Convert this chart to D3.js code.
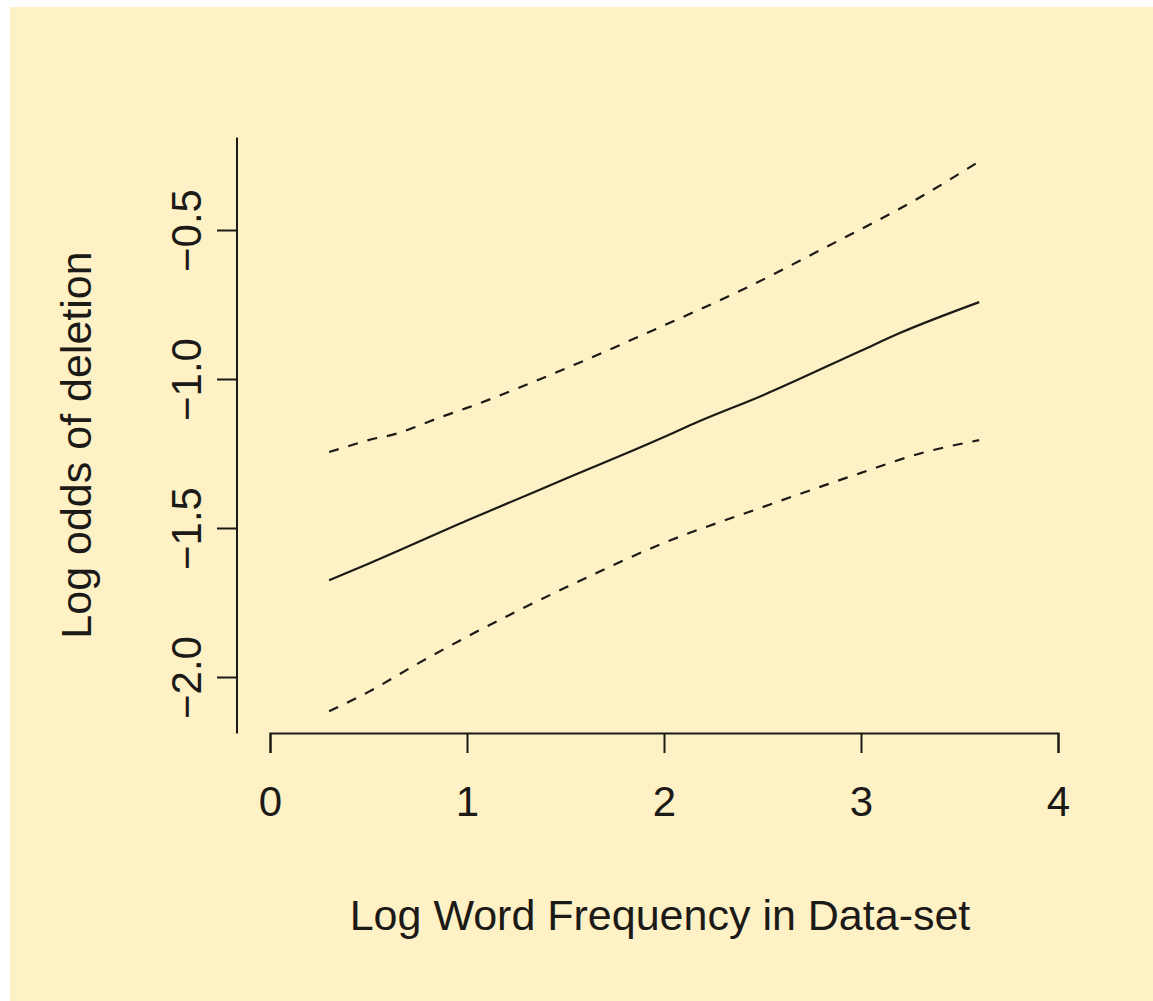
<!DOCTYPE html>
<html>
<head>
<meta charset="utf-8">
<script src="https://cdn.jsdelivr.net/npm/d3@7"></script>
<style>
  html, body { margin: 0; padding: 0; background: #fff; }
  text { font-family: "Liberation Sans", Arial, sans-serif; fill: #1c1a17; }
</style>
</head>
<body>
<div id="chart"></div>
<script>
// values
const fitX   = [0.3, 0.5, 1.0, 1.5, 2.0, 2.15, 2.5, 3.0, 3.2, 3.6];
const fitY   = [-1.675, -1.62, -1.475, -1.335, -1.195, -1.15, -1.055, -0.905, -0.845, -0.742];
const upperX = [0.3, 0.4, 0.5, 0.65, 0.75, 0.85, 1.0, 1.5, 2.0, 2.4, 2.8, 3.3, 3.6];
const upperY = [-1.245, -1.225, -1.205, -1.182, -1.158, -1.132, -1.097, -0.965, -0.82, -0.70, -0.565, -0.39, -0.27];
const lowerX = [0.3, 0.5, 0.75, 1.0, 1.5, 2.0, 2.5, 3.0, 3.3, 3.6];
const lowerY = [-2.115, -2.05, -1.955, -1.865, -1.70, -1.55, -1.43, -1.315, -1.25, -1.205];
const xTicks = [0, 1, 2, 3, 4];
const yTicks = [-2.0, -1.5, -1.0, -0.5];
const yAxisExtent = [-2.19, -0.19];

const width = 1153, height = 1001;
const ink = '#1c1a17';

const svg = d3.select('#chart')
    .append('svg')
    .attr('width', width)
    .attr('height', height);

// yellowish panel, white strip on top and left
svg.append('rect')
    .attr('x', 10).attr('y', 7)
    .attr('width', width - 10).attr('height', height - 7)
    .attr('fill', '#fef1c6');

const x = d3.scaleLinear().domain([0, 4]).range([270, 1058]);
const y = d3.scaleLinear().domain([-2, -0.5]).range([677, 230]);

// x axis (R style: line spans first to last tick)
const xAxis = svg.append('g')
    .attr('transform', 'translate(0,733)')
    .call(d3.axisBottom(x).tickValues(xTicks).tickSize(20).tickFormat(d3.format('d')));
xAxis.selectAll('path, line').attr('stroke', ink).attr('stroke-width', 2);
xAxis.selectAll('text')
    .attr('y', 83).attr('dy', null)
    .style('font-size', '42px')
    .style('font-family', '"Liberation Sans", Arial, sans-serif')
    .attr('fill', ink);

// y axis, line extends past the ticks
const yAxis = svg.append('g')
    .attr('transform', 'translate(237,0)')
    .call(d3.axisLeft(y).tickValues(yTicks).tickSize(20).tickFormat(d3.format('.1f')));
yAxis.select('.domain').remove();
yAxis.append('line')
    .attr('y1', y(yAxisExtent[0])).attr('y2', y(yAxisExtent[1]))
    .attr('stroke', ink).attr('stroke-width', 2);
yAxis.selectAll('line').attr('stroke', ink).attr('stroke-width', 2);
yAxis.selectAll('.tick text')
    .attr('x', null).attr('dy', null)
    .attr('text-anchor', 'middle')
    .attr('transform', 'translate(-36,0) rotate(-90)')
    .style('font-size', '42px')
    .style('font-family', '"Liberation Sans", Arial, sans-serif')
    .attr('fill', ink);

// axis titles
svg.append('text')
    .attr('x', 660).attr('y', 930)
    .attr('text-anchor', 'middle')
    .style('font-size', '43px')
    .text('Log Word Frequency in Data-set');

svg.append('text')
    .attr('transform', 'translate(91,445) rotate(-90)')
    .attr('text-anchor', 'middle')
    .style('font-size', '43px')
    .text('Log odds of deletion');

// curves
const line = d3.line()
    .curve(d3.curveMonotoneX)
    .x(d => x(d[0]))
    .y(d => y(d[1]));

svg.append('path')
    .datum(d3.zip(fitX, fitY))
    .attr('d', line)
    .attr('fill', 'none')
    .attr('stroke', ink)
    .attr('stroke-width', 2.2);

[[upperX, upperY], [lowerX, lowerY]].forEach(([xs, ys]) => {
    svg.append('path')
        .datum(d3.zip(xs, ys))
        .attr('d', line)
        .attr('fill', 'none')
        .attr('stroke', ink)
        .attr('stroke-width', 2.2)
        .attr('stroke-dasharray', '10,10');
});
</script>
</body>
</html>
